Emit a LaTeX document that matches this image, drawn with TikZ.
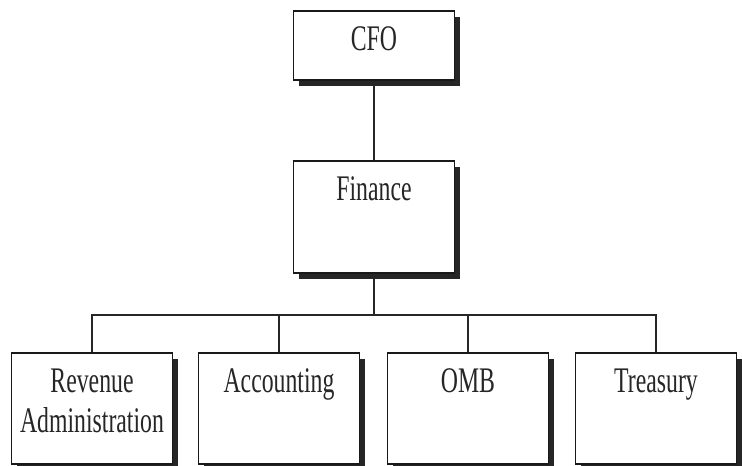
\documentclass[tikz,border=0pt]{standalone}
\usepackage{fontspec}
\setmainfont{Liberation Serif}[FakeStretch=0.66]
\usetikzlibrary{shadows}

\tikzset{
  unitbox/.style={draw=black!90, line width=1.6pt, fill=white, inner sep=0pt,
    text width=161pt, align=center, text height=40pt, text depth=#1,
    minimum width=161pt, anchor=north,
    font=\fontsize{36}{40}\selectfont, text=black!85,
    drop shadow={shadow xshift=5pt, shadow yshift=-6pt, fill=black!85, opacity=1}},
  link/.style={draw=black!85, line width=1.3pt}
}

\begin{document}
\begin{tikzpicture}[x=1pt, y=-1pt]
	\useasboundingbox (0,0) rectangle (742,466);

	% top of the chart
	\node[unitbox=29pt] (cfo) at (374,10) {CFO};
	\node[unitbox=72pt] (fin) at (374,160) {Finance};
	\coordinate (bus) at (374,315);

	% units below finance
	\node[unitbox=71pt] (rev) at (92,352) {Revenue\\Administration};
	\node[unitbox=71pt] (acc) at (279,352) {Accounting};
	\node[unitbox=71pt] (omb) at (468,352) {OMB};
	\node[unitbox=71pt] (tre) at (656,352) {Treasury};

	\draw[link] (cfo.south) -- (fin.north);
	\draw[link] (fin.south) -- (bus);
	\foreach \u in {rev,acc,omb,tre}
		\draw[link] (\u.north) |- (bus);
\end{tikzpicture}
\end{document}
